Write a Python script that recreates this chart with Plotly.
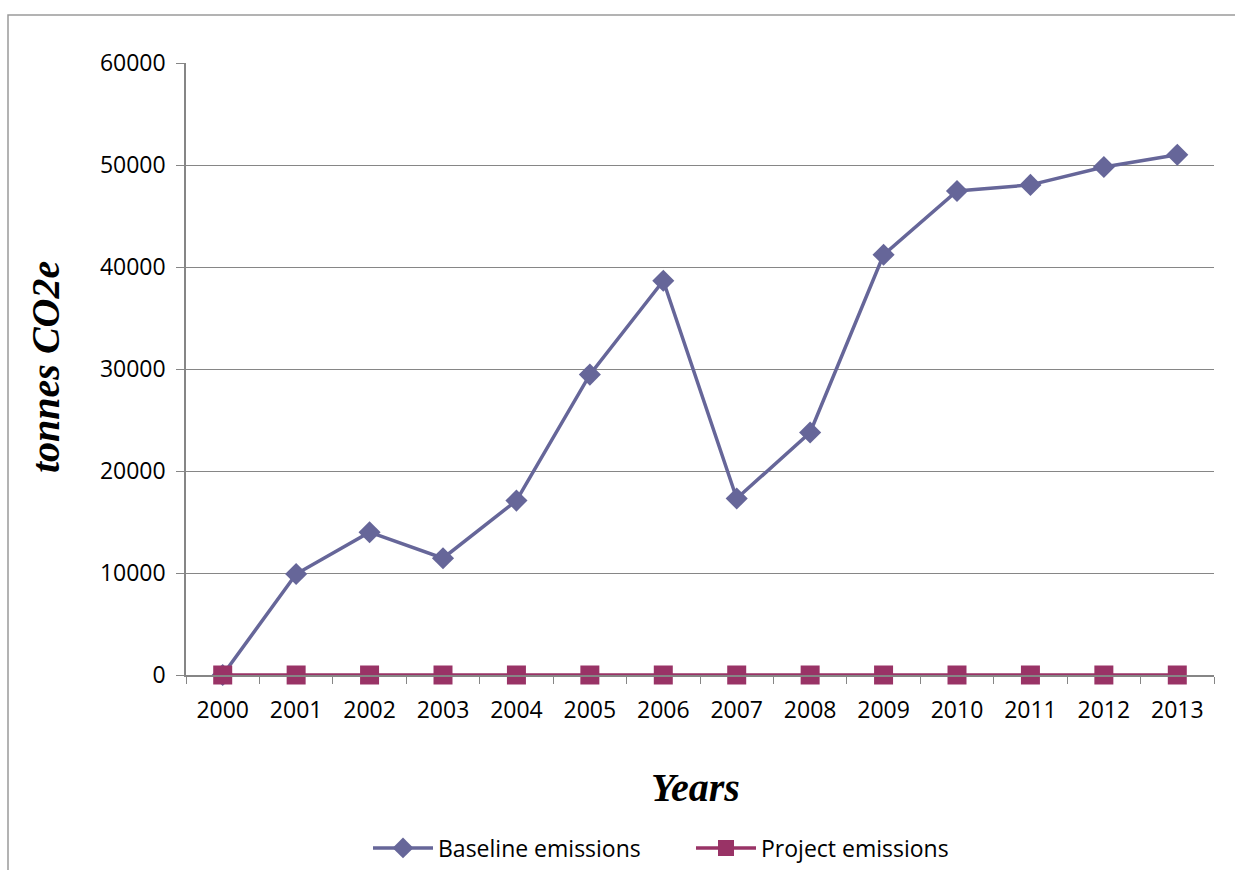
import plotly.graph_objects as go

years = ["2000", "2001", "2002", "2003", "2004", "2005", "2006",
         "2007", "2008", "2009", "2010", "2011", "2012", "2013"]
baseline = [0, 9900, 14000, 11450, 17100, 29450, 38650,
            17300, 23780, 41200, 47450, 48050, 49800, 51000]
project = [0, 0, 0, 0, 0, 0, 0, 0, 0, 0, 0, 0, 0, 0]
y_ticks = [0, 10000, 20000, 30000, 40000, 50000, 60000]

W, H = 1235, 870
L, R, T, B = 186, 21, 63, 195
pw, ph = W - L - R, H - T - B

def px_x(x):
    return (x - L) / pw

def px_y(y):
    return (H - B - y) / ph

tick_font = dict(family="Open Sans, Lato, sans-serif", size=23, color="#000000")
title_font = dict(family="Liberation Serif, Times New Roman, serif", size=40, color="#000000")

fig = go.Figure()
fig.add_trace(go.Scatter(
    x=years, y=baseline, name="Baseline emissions", mode="lines+markers",
    line=dict(color="#666699", width=3.5),
    marker=dict(symbol="diamond", size=17, color="#666699"),
    cliponaxis=False,
))
fig.add_trace(go.Scatter(
    x=years, y=project, name="Project emissions", mode="lines+markers",
    line=dict(color="#993366", width=3.5),
    marker=dict(symbol="square", size=19, color="#993366"),
    cliponaxis=False,
))

fig.update_layout(
    width=W, height=H,
    margin=dict(l=L, r=R, t=T, b=B, autoexpand=False),
    paper_bgcolor="white", plot_bgcolor="white",
    showlegend=True,
    legend=dict(orientation="h", x=px_x(368), y=px_y(848), xanchor="left", yanchor="middle",
                font=tick_font, itemwidth=60, entrywidth=248, tracegroupgap=0),
    shapes=[dict(type="rect", xref="paper", yref="paper",
                 x0=px_x(8), x1=px_x(W + 20), y0=px_y(H + 20), y1=px_y(15),
                 line=dict(color="#9a9a9a", width=1.5), fillcolor="rgba(0,0,0,0)", layer="below")],
    annotations=[
        dict(text="<b><i>tonnes CO2e</i></b>", xref="paper", yref="paper",
             x=px_x(45), y=px_y(367), xanchor="center", yanchor="middle",
             textangle=-90, showarrow=False, font=title_font),
        dict(text="<b><i>Years</i></b>", xref="paper", yref="paper",
             x=px_x(695), y=px_y(787), xanchor="center", yanchor="middle",
             showarrow=False, font=title_font),
    ],
)

fig.update_xaxes(
    type="category", range=[-0.5, 13.5],
    showgrid=False, showline=True, linecolor="#868686", linewidth=1.5,
    ticks="outside", tickson="boundaries", ticklen=7, tickcolor="#868686",
    tickfont=tick_font, ticklabelstandoff=14, zeroline=False,
)
fig.update_yaxes(
    range=[0, 60000], tickvals=y_ticks, ticktext=[str(v) for v in y_ticks],
    showgrid=True, gridcolor="#868686", gridwidth=1,
    showline=True, linecolor="#868686", linewidth=1.5,
    ticks="outside", ticklen=8, tickcolor="#868686",
    tickfont=tick_font, ticklabelstandoff=6, zeroline=False,
)

fig.write_html("out.html")
